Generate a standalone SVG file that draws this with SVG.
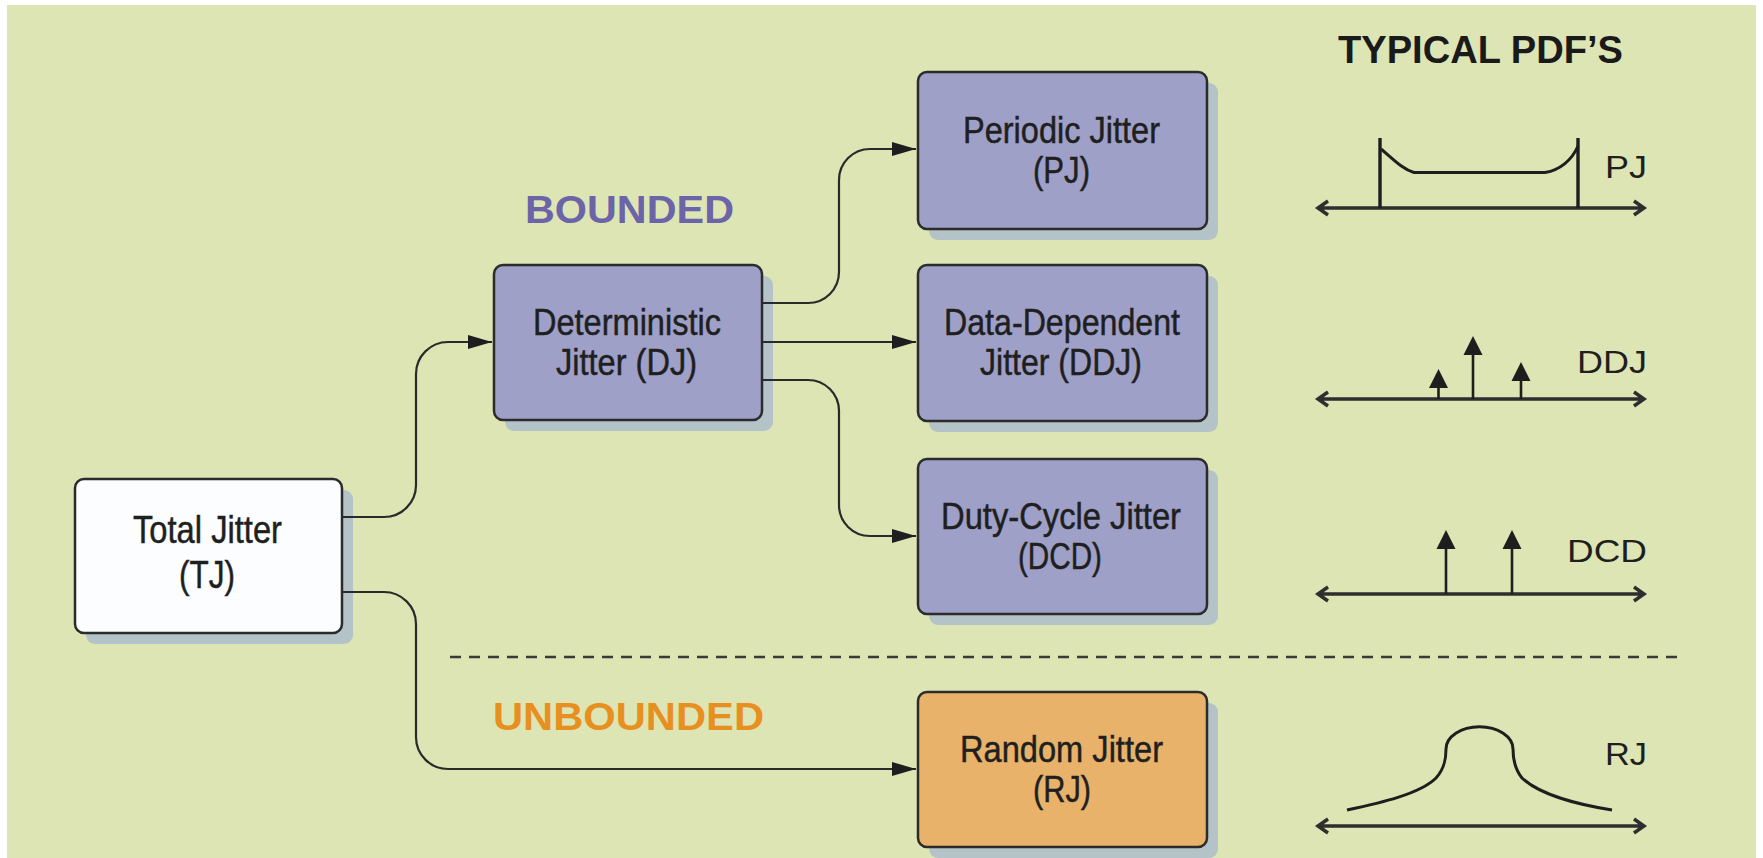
<svg xmlns="http://www.w3.org/2000/svg" width="1763" height="858" viewBox="0 0 1763 858">
<style>
.bg{fill:#dde5b4}
.shadow{fill:#b4c3c7}
.box{stroke:#2b2b2b;stroke-width:2.5}
.purple{fill:#9ea0c8}
.white{fill:#fbfdff}
.orange{fill:#e8b26a}
.lbl{font-family:"Liberation Sans",Arial,sans-serif;font-size:37.5px;fill:#1f1f1f;stroke:#1f1f1f;stroke-width:0.5}
.head{font-family:"Liberation Sans",Arial,sans-serif;font-weight:bold;font-size:39px}
.pdf{font-family:"Liberation Sans",Arial,sans-serif;font-size:32px;fill:#1f1f1f}
.conn{fill:none;stroke:#2a2a2a;stroke-width:2.2}
.axis{fill:none;stroke:#2e2e2e;stroke-width:3.5;stroke-linejoin:miter}
.curve{fill:none;stroke:#1e1e1e;stroke-width:3}
.imp{stroke:#1e1e1e;stroke-width:2.6}
.tri{fill:#1e1e1e}
</style>
<defs>
<marker id="arrow" markerUnits="userSpaceOnUse" markerWidth="26" markerHeight="16" refX="24" refY="7" orient="auto">
<path d="M0,0 L24,7 L0,14 z" fill="#1e1e1e"/>
</marker>
</defs>
<rect class="bg" x="7" y="5" width="1749" height="853"/>

<text class="head" x="525" y="223" textLength="209" lengthAdjust="spacingAndGlyphs" fill="#6b64a8">BOUNDED</text>
<text class="head" x="493" y="730" textLength="271" lengthAdjust="spacingAndGlyphs" fill="#e8901f">UNBOUNDED</text>
<text class="head" x="1338" y="63" textLength="285" lengthAdjust="spacingAndGlyphs" font-size="35" fill="#1a1a1a">TYPICAL PDF’S</text>

<line x1="450" y1="657" x2="1683" y2="657" stroke="#3a3a3a" stroke-width="2.5" stroke-dasharray="11,8"/>

<g id="node-tj">
<rect class="shadow" x="86" y="490" width="267" height="154" rx="9"/>
<rect class="box white" x="75" y="479" width="267" height="154" rx="9"/>
<text class="lbl" x="133" y="543" textLength="149" lengthAdjust="spacingAndGlyphs" style="font-size:39px">Total Jitter</text>
<text class="lbl" x="179" y="588" textLength="56" lengthAdjust="spacingAndGlyphs" style="font-size:39px">(TJ)</text>
</g>

<g id="node-dj">
<rect class="shadow" x="505" y="276" width="268" height="155" rx="9"/>
<rect class="box purple" x="494" y="265" width="268" height="155" rx="9"/>
<text class="lbl" x="533" y="335" textLength="188" lengthAdjust="spacingAndGlyphs">Deterministic</text>
<text class="lbl" x="556" y="375" textLength="141" lengthAdjust="spacingAndGlyphs">Jitter (DJ)</text>
</g>

<g id="node-pj">
<rect class="shadow" x="929" y="83" width="289" height="157" rx="9"/>
<rect class="box purple" x="918" y="72" width="289" height="157" rx="9"/>
<text class="lbl" x="963" y="143" textLength="197" lengthAdjust="spacingAndGlyphs">Periodic Jitter</text>
<text class="lbl" x="1033" y="183" textLength="57" lengthAdjust="spacingAndGlyphs">(PJ)</text>
</g>

<g id="node-ddj">
<rect class="shadow" x="929" y="276" width="289" height="156" rx="9"/>
<rect class="box purple" x="918" y="265" width="289" height="156" rx="9"/>
<text class="lbl" x="944" y="335" textLength="236" lengthAdjust="spacingAndGlyphs">Data-Dependent</text>
<text class="lbl" x="980" y="375" textLength="162" lengthAdjust="spacingAndGlyphs">Jitter (DDJ)</text>
</g>

<g id="node-dcd">
<rect class="shadow" x="929" y="470" width="289" height="155" rx="9"/>
<rect class="box purple" x="918" y="459" width="289" height="155" rx="9"/>
<text class="lbl" x="941" y="529" textLength="240" lengthAdjust="spacingAndGlyphs">Duty-Cycle Jitter</text>
<text class="lbl" x="1018" y="569" textLength="84" lengthAdjust="spacingAndGlyphs">(DCD)</text>
</g>

<g id="node-rj">
<rect class="shadow" x="929" y="703" width="289" height="155" rx="9"/>
<rect class="box orange" x="918" y="692" width="289" height="155" rx="9"/>
<text class="lbl" x="960" y="762" textLength="203" lengthAdjust="spacingAndGlyphs">Random Jitter</text>
<text class="lbl" x="1033" y="802" textLength="58" lengthAdjust="spacingAndGlyphs">(RJ)</text>
</g>

<g id="connectors">
<path class="conn" d="M342,517 H384 A32,32 0 0 0 416,485 V374 A32,32 0 0 1 448,342 H492" marker-end="url(#arrow)"/>
<path class="conn" d="M342,592 H384 A32,32 0 0 1 416,624 V737 A32,32 0 0 0 448,769 H916" marker-end="url(#arrow)"/>
<path class="conn" d="M762,303 H808 A31,31 0 0 0 839,272 V180 A31,31 0 0 1 870,149 H916" marker-end="url(#arrow)"/>
<path class="conn" d="M762,342 H916" marker-end="url(#arrow)"/>
<path class="conn" d="M762,380 H808 A31,31 0 0 1 839,411 V505 A31,31 0 0 0 870,536 H916" marker-end="url(#arrow)"/>
</g>

<g id="pdf-pj">
<path class="axis" d="M1318,208 H1644 M1328,201 L1318,208 L1328,215 M1634,201 L1644,208 L1634,215"/>
<line x1="1380" y1="138" x2="1380" y2="208" stroke="#1e1e1e" stroke-width="3.4"/>
<line x1="1578" y1="138" x2="1578" y2="208" stroke="#1e1e1e" stroke-width="3.4"/>
<path class="curve" d="M1381,149 C1392,158 1402,169 1414,172.5 L1545,172.5 C1560,170 1572,160 1578,146"/>
<text class="pdf" x="1605" y="178" textLength="42" lengthAdjust="spacingAndGlyphs">PJ</text>
</g>

<g id="pdf-ddj">
<path class="axis" d="M1318,399 H1644 M1328,392 L1318,399 L1328,406 M1634,392 L1644,399 L1634,406"/>
<line class="imp" x1="1438.5" y1="385" x2="1438.5" y2="399"/>
<path class="tri" d="M1438.5,369 L1429,388 L1448,388 z"/>
<line class="imp" x1="1473" y1="352" x2="1473" y2="399"/>
<path class="tri" d="M1473,336 L1463.5,355 L1482.5,355 z"/>
<line class="imp" x1="1521" y1="378" x2="1521" y2="399"/>
<path class="tri" d="M1521,362 L1511.5,381 L1530.5,381 z"/>
<text class="pdf" x="1577" y="373" textLength="70" lengthAdjust="spacingAndGlyphs">DDJ</text>
</g>

<g id="pdf-dcd">
<path class="axis" d="M1318,594 H1644 M1328,587 L1318,594 L1328,601 M1634,587 L1644,594 L1634,601"/>
<line class="imp" x1="1446" y1="545" x2="1446" y2="594"/>
<path class="tri" d="M1446,530 L1436.5,549 L1455.5,549 z"/>
<line class="imp" x1="1512" y1="545" x2="1512" y2="594"/>
<path class="tri" d="M1512,530 L1502.5,549 L1521.5,549 z"/>
<text class="pdf" x="1567" y="562" textLength="80" lengthAdjust="spacingAndGlyphs">DCD</text>
</g>

<g id="pdf-rj">
<path class="axis" d="M1318,826 H1644 M1328,819 L1318,826 L1328,833 M1634,819 L1644,826 L1634,833"/>
<path class="curve" d="M1347,810 C1380,803 1420,794 1436,778 C1445,768 1446,758 1446,749 A33,22 0 0 1 1513,749 C1513,758 1514,768 1522,778 C1540,795 1580,805 1612,810"/>
<text class="pdf" x="1605" y="765" textLength="42" lengthAdjust="spacingAndGlyphs">RJ</text>
</g>
</svg>
